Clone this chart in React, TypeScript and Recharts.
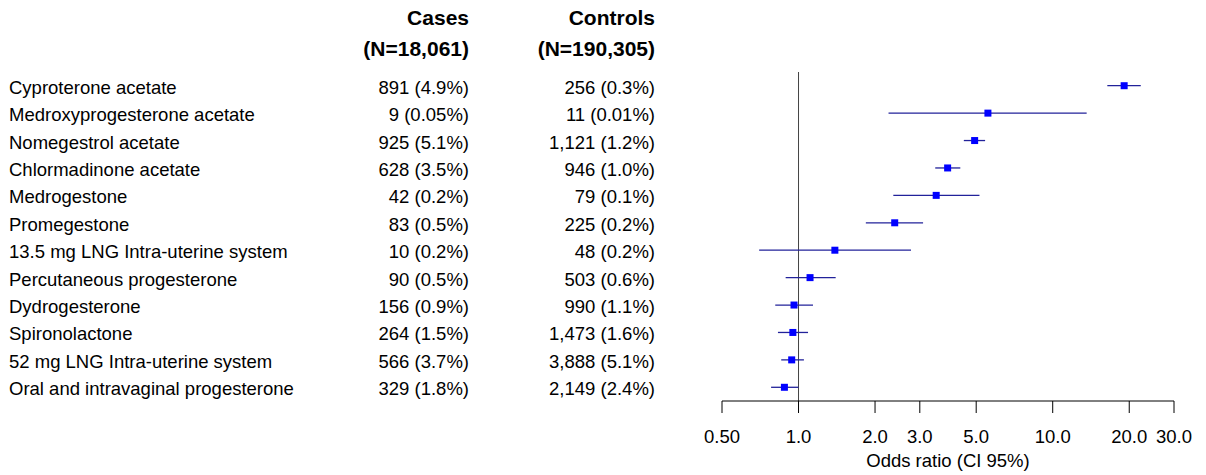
import React from "react";
import {
  ScatterChart,
  Scatter,
  XAxis,
  YAxis,
  ErrorBar,
  ReferenceLine,
  Customized,
} from "recharts";

const names = [
  "Cyproterone acetate",
  "Medroxyprogesterone acetate",
  "Nomegestrol acetate",
  "Chlormadinone acetate",
  "Medrogestone",
  "Promegestone",
  "13.5 mg LNG Intra-uterine system",
  "Percutaneous progesterone",
  "Dydrogesterone",
  "Spironolactone",
  "52 mg LNG Intra-uterine system",
  "Oral and intravaginal progesterone",
];
const cases = [
  "891 (4.9%)",
  "9 (0.05%)",
  "925 (5.1%)",
  "628 (3.5%)",
  "42 (0.2%)",
  "83 (0.5%)",
  "10 (0.2%)",
  "90 (0.5%)",
  "156 (0.9%)",
  "264 (1.5%)",
  "566 (3.7%)",
  "329 (1.8%)",
];
const controls = [
  "256 (0.3%)",
  "11 (0.01%)",
  "1,121 (1.2%)",
  "946 (1.0%)",
  "79 (0.1%)",
  "225 (0.2%)",
  "48 (0.2%)",
  "503 (0.6%)",
  "990 (1.1%)",
  "1,473 (1.6%)",
  "3,888 (5.1%)",
  "2,149 (2.4%)",
];
const oddsRatio = [19.1, 5.56, 4.93, 3.86, 3.48, 2.39, 1.39, 1.11, 0.96, 0.95, 0.94, 0.88];
const ciLow = [16.4, 2.26, 4.47, 3.45, 2.36, 1.84, 0.7, 0.89, 0.81, 0.83, 0.855, 0.78];
const ciHigh = [22.2, 13.6, 5.42, 4.33, 5.15, 3.09, 2.77, 1.4, 1.14, 1.09, 1.05, 1.0];

const xTicks = [0.5, 1, 2, 3, 5, 10, 20, 30];
const xTickLabels = ["0.50", "1.0", "2.0", "3.0", "5.0", "10.0", "20.0", "30.0"];
const headerCases = ["Cases", "(N=18,061)"];
const headerControls = ["Controls", "(N=190,305)"];
const xTitle = "Odds ratio (CI 95%)";

const rows = names.map((n, i) => ({
  row: i + 1,
  or: oddsRatio[i],
  err: [oddsRatio[i] - ciLow[i], ciHigh[i] - oddsRatio[i]],
}));

const FONT = "'Liberation Sans', Arial, Helvetica, sans-serif";
const COL_NAME_X = 9;
const COL_CASES_X = 469;
const COL_CONTROLS_X = 655;

const TableTick = (props: any) => {
  const { y, payload } = props;
  const i = Number(payload.value) - 1;
  if (i < 0 || i >= names.length) return null;
  const by = y + 8;
  return (
    <g fontFamily={FONT} fontSize={18.5} fill="#000">
      <text x={COL_NAME_X} y={by} textAnchor="start">{names[i]}</text>
      <text x={COL_CASES_X} y={by} textAnchor="end">{cases[i]}</text>
      <text x={COL_CONTROLS_X} y={by} textAnchor="end">{controls[i]}</text>
    </g>
  );
};

const Header = () => (
  <g fontFamily={FONT} fontSize={21} fontWeight="bold" fill="#000">
    <text x={COL_CASES_X} y={25} textAnchor="end">{headerCases[0]}</text>
    <text x={COL_CASES_X} y={56} textAnchor="end">{headerCases[1]}</text>
    <text x={COL_CONTROLS_X} y={25} textAnchor="end">{headerControls[0]}</text>
    <text x={COL_CONTROLS_X} y={56} textAnchor="end">{headerControls[1]}</text>
  </g>
);

const Square = (props: any) => {
  const { cx, cy } = props;
  if (cx == null || cy == null) return null;
  return <rect x={cx - 3.5} y={cy - 3.5} width={7} height={7} fill="#0000ff" />;
};

export default function App() {
  return (
    <div style={{ position: "absolute", left: 0, top: 0, width: 1206, height: 475, background: "#fff" }}>
      <ScatterChart
        width={1206}
        height={475}
        margin={{ top: 72, right: 32, bottom: 0, left: 0 }}
      >
        <XAxis
          type="number"
          dataKey="or"
          scale="log"
          domain={[0.5, 30]}
          allowDataOverflow
          ticks={xTicks}
          interval={0}
          tickFormatter={(v: number) => xTickLabels[xTicks.indexOf(v)] ?? String(v)}
          height={74}
          tickSize={12}
          tickMargin={17}
          axisLine={{ stroke: "#000", strokeWidth: 1 }}
          tickLine={{ stroke: "#000", strokeWidth: 1 }}
          tick={{ fill: "#000", fontSize: 18.5, fontFamily: FONT }}
          label={{
            value: xTitle,
            position: "insideBottom",
            offset: 8,
            fill: "#000",
            fontSize: 18.5,
            fontFamily: FONT,
          }}
        />
        <YAxis
          type="number"
          dataKey="row"
          domain={[0.5, 12.5]}
          reversed
          ticks={rows.map((r) => r.row)}
          interval={0}
          width={722}
          axisLine={false}
          tickLine={false}
          tick={<TableTick />}
        />
        <ReferenceLine x={1} stroke="#444" strokeWidth={1} />
        <Scatter data={rows} shape={<Square />} isAnimationActive={false}>
          <ErrorBar
            dataKey="err"
            direction="x"
            width={0}
            stroke="#22229a"
            strokeWidth={1.3}
            isAnimationActive={false}
          />
        </Scatter>
        <Customized component={Header} />
      </ScatterChart>
    </div>
  );
}
